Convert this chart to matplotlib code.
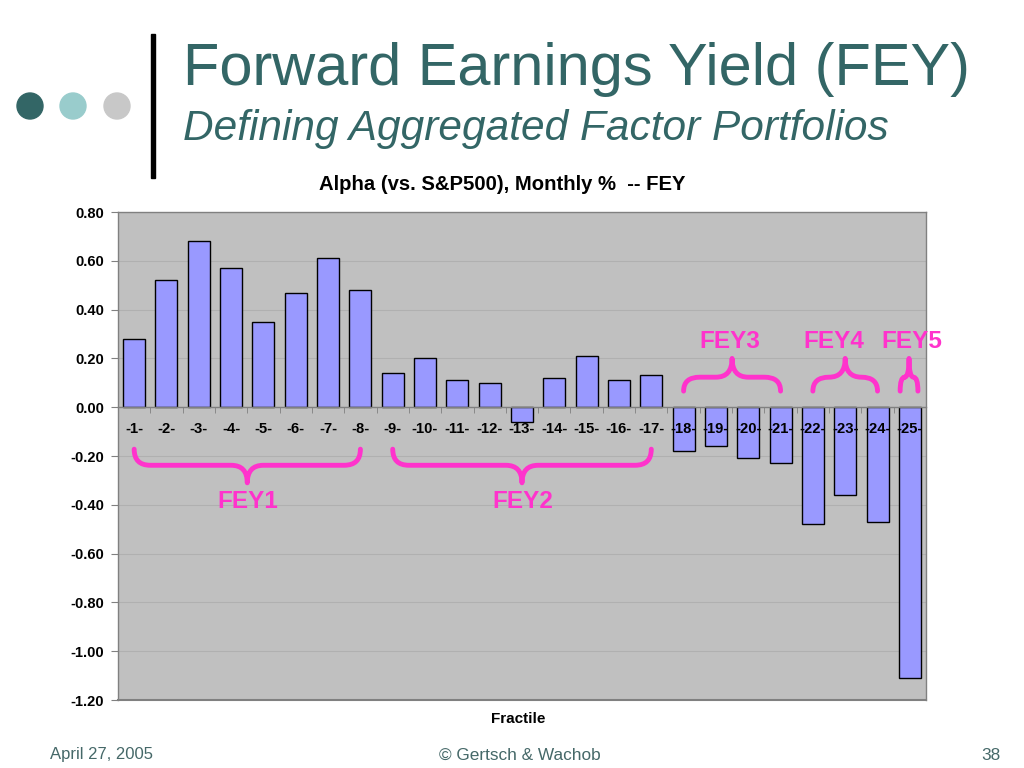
import matplotlib
matplotlib.use("Agg")
import matplotlib.pyplot as plt
from matplotlib.path import Path
from matplotlib.patches import PathPatch, Circle, Rectangle
import numpy as np

plt.rcParams['font.family'] = ['Liberation Sans', 'DejaVu Sans']

# ---- data ----
fractiles = list(range(1, 26))
tick_labels = [f"-{i}-" for i in fractiles]
alpha = [0.28, 0.52, 0.68, 0.57, 0.35, 0.47, 0.61, 0.48,
         0.14, 0.20, 0.11, 0.10, -0.06, 0.12, 0.21, 0.11, 0.13,
         -0.18, -0.16, -0.21, -0.23, -0.48, -0.36, -0.47, -1.11]
y_ticks = [0.80, 0.60, 0.40, 0.20, 0.00, -0.20, -0.40, -0.60, -0.80, -1.00, -1.20]
group_names = ["FEY1", "FEY2", "FEY3", "FEY4", "FEY5"]
group_start = [1, 9, 18, 22, 24.7]
group_end = [8, 17, 21, 24, 25.25]
group_below = [True, True, False, False, False]
group_label_x = [4.52, 13.03, 19.44, 22.65, 25.07]

chart_title = "Alpha (vs. S&P500), Monthly %  -- FEY"
x_title = "Fractile"
slide_title = "Forward Earnings Yield (FEY)"
slide_subtitle = "Defining Aggregated Factor Portfolios"
footer_left = "April 27, 2005"
footer_mid = "\u00a9 Gertsch & Wachob"
footer_right = "38"

TEAL = '#336666'
FOOT = '#456868'
MAGENTA = '#FF33CC'

fig = plt.figure(figsize=(10.24, 7.68), dpi=100)
W, H = 1024, 768

# slide decorations
deco = fig.add_axes([0, 0, 1, 1])
deco.set_xlim(0, W)
deco.set_ylim(H, 0)
deco.axis('off')
for cx, col in [(30, '#336666'), (73, '#99CCCC'), (117, '#C8C8C8')]:
    deco.add_patch(Circle((cx, 106), 13, color=col))
deco.add_patch(Rectangle((151, 34), 4, 144, color='black'))
deco.text(183, 85, slide_title, fontsize=42.8, color=TEAL, va='baseline', ha='left')
deco.text(183, 140, slide_subtitle, fontsize=30.5, color=TEAL, va='baseline', ha='left',
          style='italic')
deco.text(50, 755, footer_left, fontsize=12, color=FOOT, va='center', ha='left')
deco.text(520, 755, footer_mid, fontsize=12.4, color=FOOT, va='center', ha='center')
deco.text(1001, 755, footer_right, fontsize=12.4, color=FOOT, va='center', ha='right')

# chart
ax = fig.add_axes([118 / W, 1 - 700 / H, 808 / W, 488 / H])
ax.set_facecolor('#C0C0C0')
ax.bar(fractiles, alpha, width=0.68, color='#9999FF', edgecolor='black',
       linewidth=1.0, zorder=1)
ax.set_xlim(0.5, 25.5)
ax.set_ylim(-1.2, 0.8)
ax.spines['bottom'].set_position(('data', 0))
ax.set_yticks(y_ticks)
ax.set_yticklabels([f"{v:.2f}" for v in y_ticks])
ax.grid(axis='y', color='#B0B0B0', linewidth=0.8)
ax.set_xticks(fractiles)
ax.set_xticklabels(tick_labels)
ax.set_xticks(np.arange(0.5, 26, 1), minor=True)
ax.tick_params(axis='x', which='major', length=0, pad=11, labelsize=10.6)
ax.tick_params(axis='x', which='minor', length=4, color='#808080', direction='out')
ax.tick_params(axis='y', length=5, color='#808080', pad=5, labelsize=10.5)
for s in ax.spines.values():
    s.set_color('#808080')
    s.set_linewidth(1.0)
ax.plot([0, 1], [0, 0], transform=ax.transAxes, color='#808080', lw=1.5, clip_on=False)
ax.yaxis.set_zorder(0.5)
ax.xaxis.set_zorder(3)
for lbl in ax.get_xticklabels() + ax.get_yticklabels():
    lbl.set_fontweight('bold')

fig.text(502 / W, 1 - 185 / H, chart_title, fontweight='bold', fontsize=14.6,
         ha='center', va='center')
fig.text(518 / W, 1 - 719 / H, x_title, fontweight='bold', fontsize=11, ha='center', va='center')


def brace(ax, x0, x1, y_end, y_h, y_tip, r):
    xm = (x0 + x1) / 2
    verts = [(x0, y_end), (x0, y_h), (x0 + r, y_h),
             (xm - r, y_h), (xm, y_h), (xm, y_tip),
             (xm, y_h), (xm + r, y_h),
             (x1 - r, y_h), (x1, y_h), (x1, y_end)]
    codes = [Path.MOVETO, Path.CURVE3, Path.CURVE3,
             Path.LINETO, Path.CURVE3, Path.CURVE3,
             Path.CURVE3, Path.CURVE3,
             Path.LINETO, Path.CURVE3, Path.CURVE3]
    ax.add_patch(PathPatch(Path(verts, codes), fill=False, edgecolor=MAGENTA,
                           lw=3.5, capstyle='round', joinstyle='round', zorder=4,
                           clip_on=False))


for name, s, e, below, lx in zip(group_names, group_start, group_end, group_below,
                                 group_label_x):
    r = min(0.5, (e - s) / 4)
    if below:
        brace(ax, s, e, -0.172, -0.238, -0.31, r)
        ax.text(lx, -0.385, name, color=MAGENTA, fontsize=17.5, fontweight='bold',
                ha='center', va='center', zorder=5)
    else:
        brace(ax, s, e, 0.066, 0.123, 0.20, r)
        ax.text(lx, 0.27, name, color=MAGENTA, fontsize=17.5, fontweight='bold',
                ha='center', va='center', zorder=5, clip_on=False)

fig.savefig('out.png', dpi=100)
